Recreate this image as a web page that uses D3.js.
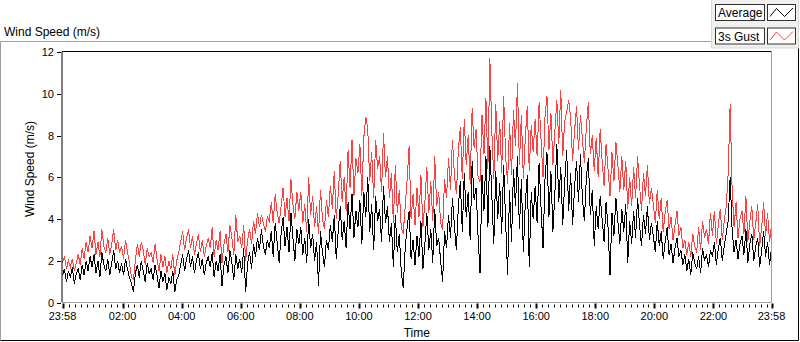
<!DOCTYPE html>
<html>
<head>
<meta charset="utf-8">
<script src="https://cdn.jsdelivr.net/npm/d3@7"></script>
<style>
  html, body { margin: 0; padding: 0; background: #fff; }
  svg { display: block; font-family: "Liberation Sans", Arial, sans-serif; }
</style>
</head>
<body>
<script>
// wind log, one value every 4 minutes from 23:58 to 23:58 next day
const startTime = new Date(2024, 0, 1, 23, 58);
const stepMinutes = 4;

const average = [
  1.3, 1.6, 1.0, 1.5, 1.2, 1.7, 0.9, 1.4, 1.6, 1.1, 1.8, 1.3, 2.0, 1.5, 2.2,
  1.7, 2.3, 1.4, 2.0, 1.2, 2.4, 1.8, 1.5, 2.1, 1.3, 1.9, 2.5, 1.6, 2.0, 1.4,
  1.9, 1.3, 2.1, 1.6, 1.2, 0.9, 0.5, 1.4, 1.8, 1.2, 2.0, 1.5, 1.0, 1.9, 1.4,
  1.6, 1.1, 1.8, 1.3, 0.7, 1.5, 1.0, 1.4, 0.6, 1.2, 0.9, 1.5, 0.5, 1.1, 1.3,
  1.8, 2.3, 1.5, 2.1, 2.5, 1.7, 2.2, 1.4, 2.0, 2.4, 1.6, 2.1, 1.3, 1.9, 2.2,
  1.7, 2.4, 1.2, 2.0, 1.5, 2.3, 0.8, 1.8, 2.2, 1.4, 2.5, 1.9, 1.1, 2.3, 1.6,
  2.1, 1.4, 2.6, 0.5, 1.9, 2.4, 1.6, 2.8, 2.2, 3.1, 2.5, 3.5, 2.7, 2.3, 3.0,
  2.6, 3.4, 2.2, 3.8, 2.9, 1.9, 3.3, 4.1, 2.7, 3.6, 2.4, 4.3, 3.1, 2.0, 3.5,
  2.8, 3.6, 2.3, 3.1, 1.9, 4.0, 2.6, 3.3, 2.0, 2.9, 0.8, 3.4, 2.4, 1.7, 3.0,
  2.5, 3.7, 2.9, 4.2, 2.1, 3.4, 4.6, 3.0, 3.9, 2.6, 4.8, 3.5, 5.2, 3.1, 4.4,
  3.6, 4.9, 2.8, 5.3, 4.1, 6.0, 3.4, 4.7, 2.5, 5.1, 3.9, 4.5, 2.9, 5.6, 3.8,
  4.6, 2.9, 3.8, 1.7, 4.2, 2.4, 3.3, 1.5, 0.7, 2.6, 3.6, 4.4, 2.1, 3.0, 1.8,
  3.2, 2.2, 3.9, 1.6, 2.8, 4.3, 2.5, 3.5, 1.9, 4.5, 2.7, 3.1, 2.0, 1.0, 3.4,
  2.6, 4.2, 3.1, 5.0, 3.7, 2.5, 4.6, 5.8, 3.4, 6.2, 4.1, 5.3, 3.0, 6.8, 4.9,
  5.5, 3.2, 1.4, 6.1, 4.4, 7.0, 3.6, 7.5, 5.1, 2.8, 6.3, 4.0, 5.7, 3.3, 6.6,
  3.9, 1.3, 5.4, 2.9, 6.4, 4.6, 7.0, 3.5, 5.9, 2.4, 4.8, 6.1, 1.7, 5.3, 4.0,
  5.6, 3.8, 6.7, 4.5, 2.6, 5.9, 7.2, 4.1, 6.3, 3.4, 5.2, 7.6, 4.8, 6.5, 3.7,
  5.8, 7.3, 4.4, 6.2, 3.7, 5.5, 6.8, 4.8, 7.1, 5.0, 3.9, 6.0, 6.9, 4.2, 5.4,
  2.7, 4.6, 3.5, 5.1, 4.0, 2.9, 4.8, 3.6, 1.3, 4.3, 3.2, 5.0, 3.9, 2.8, 4.5,
  3.4, 4.7, 1.9, 3.9, 2.8, 4.4, 3.1, 5.0, 3.7, 2.7, 4.2, 3.3, 4.6, 3.0, 3.8,
  3.2, 2.4, 3.9, 2.7, 3.4, 2.1, 2.9, 3.6, 2.3, 2.8, 1.9, 2.6, 3.1, 2.2, 2.5,
  1.8, 2.3, 1.5, 2.1, 1.3, 2.4, 1.9, 1.6, 2.2, 1.4, 2.6, 2.0, 2.3, 1.7, 2.5,
  2.2, 2.9, 1.8, 2.6, 3.1, 2.0, 2.7, 3.3, 3.9, 6.0, 3.5, 2.4, 3.0, 2.1, 2.8,
  3.2, 2.3, 3.5, 1.9, 2.8, 3.3, 2.0, 2.7, 3.1, 1.7, 2.5, 3.4, 2.2, 2.9, 1.8, 2.6
];

const gust = [
  1.9, 2.2, 1.6, 2.0, 1.7, 2.1, 1.5, 1.9, 2.3, 1.8, 2.6, 2.1, 2.9, 2.4, 3.2,
  2.6, 3.4, 2.3, 2.9, 2.2, 3.5, 2.7, 2.4, 3.1, 2.3, 2.8, 3.5, 2.5, 3.0, 2.4,
  2.7, 2.1, 3.0, 2.4, 1.9, 1.2, 1.1, 2.0, 2.8, 2.2, 2.9, 2.5, 1.8, 2.6, 2.2,
  2.4, 1.9, 2.8, 2.1, 1.5, 2.3, 1.7, 2.2, 1.4, 2.0, 1.6, 2.3, 1.3, 2.0, 2.4,
  2.9, 3.4, 2.5, 3.1, 3.5, 2.6, 3.2, 2.3, 2.8, 3.3, 2.4, 3.0, 2.2, 2.7, 3.1,
  2.6, 3.6, 2.2, 3.0, 2.5, 3.4, 1.9, 2.8, 3.3, 2.4, 3.7, 3.1, 2.3, 4.2, 2.9,
  3.2, 2.6, 3.7, 2.0, 3.0, 3.5, 2.8, 3.9, 3.3, 4.3, 3.6, 4.2, 3.8, 3.4, 4.1,
  3.9, 4.8, 3.8, 5.2, 4.3, 3.8, 4.6, 5.5, 4.1, 5.0, 3.9, 5.9, 4.7, 4.0, 5.3,
  4.4, 5.3, 3.8, 4.7, 3.4, 6.0, 4.2, 5.1, 3.6, 4.6, 3.3, 5.4, 4.0, 3.5, 4.9,
  4.1, 5.6, 4.5, 6.3, 4.0, 5.2, 6.8, 4.8, 6.0, 4.4, 7.3, 5.5, 7.8, 5.1, 6.9,
  6.2, 7.6, 5.1, 7.9, 8.9, 8.3, 5.8, 7.2, 5.0, 7.8, 6.4, 7.0, 5.3, 8.1, 6.0,
  7.0, 5.0, 6.2, 3.8, 6.6, 4.3, 5.4, 3.6, 3.3, 4.6, 5.9, 7.5, 4.0, 5.2, 3.7,
  5.5, 4.1, 6.1, 3.6, 4.8, 6.5, 4.3, 5.8, 3.9, 7.0, 4.6, 5.3, 3.8, 3.5, 5.9,
  5.0, 6.9, 5.4, 7.8, 6.1, 5.2, 7.3, 8.4, 5.9, 8.8, 6.6, 8.0, 5.7, 9.3, 7.4,
  8.3, 6.0, 5.8, 9.0, 7.1, 9.8, 6.4, 11.7, 8.2, 5.9, 9.5, 6.8, 8.7, 6.2, 9.9,
  7.0, 5.7, 8.6, 6.1, 9.2, 7.5, 10.5, 6.6, 9.0, 5.9, 7.9, 9.4, 6.3, 8.5, 7.2,
  8.8, 7.0, 9.6, 7.8, 6.0, 8.9, 9.9, 7.3, 9.1, 6.6, 8.2, 9.7, 7.6, 10.2, 7.0,
  8.7, 9.1, 9.7, 8.9, 6.8, 8.2, 9.4, 7.3, 9.0, 7.8, 6.7, 8.4, 9.6, 7.1, 8.0,
  6.3, 7.9, 6.0, 8.3, 6.8, 5.6, 7.6, 6.4, 5.1, 7.2, 5.8, 7.7, 6.6, 5.3, 7.0,
  5.4, 6.8, 4.5, 6.0, 4.6, 6.5, 5.0, 7.0, 5.6, 4.4, 6.2, 5.1, 6.6, 4.7, 5.5,
  4.7, 3.8, 5.4, 4.0, 5.0, 3.4, 4.3, 4.9, 3.5, 4.1, 3.0, 3.7, 4.4, 3.2, 3.6,
  2.6, 3.0, 2.3, 2.9, 2.2, 3.3, 2.7, 2.4, 3.6, 2.5, 3.9, 3.1, 3.5, 2.8, 4.3,
  3.2, 4.4, 2.8, 3.7, 4.5, 3.0, 3.9, 4.6, 6.2, 9.5, 5.4, 3.6, 4.8, 3.1, 4.0,
  4.4, 3.3, 5.1, 2.9, 3.9, 4.6, 3.0, 3.8, 4.7, 2.7, 3.6, 4.8, 3.2, 4.3, 2.9, 3.7
];

const yTicks = [0, 2, 4, 6, 8, 10, 12];
const seriesNames = ['Average', '3s Gust'];
const seriesColors = ['#000000', '#ff4040'];

const width = 800;
const height = 342;
const plot = { left: 62, right: 771.5, top: 51.5, bottom: 302.5 };

const endTime = d3.timeMinute.offset(startTime, (average.length - 1) * stepMinutes);
const toPoints = vals => vals.map((v, i) => ({ time: d3.timeMinute.offset(startTime, i * stepMinutes), value: v }));

const svg = d3.select('body').append('svg')
  .attr('width', width)
  .attr('height', height);

svg.append('rect').attr('width', width).attr('height', height).attr('fill', '#fff');

// outer frame: grey top/left, dark bottom/right
svg.append('path')
  .attr('d', `M0.5,${height - 1.5}V41.5H798.5`)
  .attr('fill', 'none').attr('stroke', '#a0a0a0');
svg.append('path')
  .attr('d', `M798.5,41.5V${height - 1.5}H0.5`)
  .attr('fill', 'none').attr('stroke', '#000');

svg.append('text')
  .attr('x', 4).attr('y', 36)
  .attr('font-size', 12)
  .attr('fill', '#000')
  .text('Wind Speed (m/s)');

const x = d3.scaleTime()
  .domain([startTime, endTime])
  .range([plot.left + 0.5, plot.right]);

const y = d3.scaleLinear()
  .domain([0, 12])
  .range([plot.bottom, plot.top + 0.5]);

// plot area
svg.append('rect')
  .attr('x', plot.left).attr('y', plot.top)
  .attr('width', plot.right - plot.left).attr('height', plot.bottom - plot.top)
  .attr('fill', '#fff');

const clip = svg.append('clipPath').attr('id', 'clip')
  .append('rect')
  .attr('x', plot.left).attr('y', plot.top)
  .attr('width', plot.right - plot.left).attr('height', plot.bottom - plot.top);

const line = d3.line()
  .x(d => x(d.time))
  .y(d => y(d.value));

const lines = svg.append('g').attr('clip-path', 'url(#clip)');
lines.append('path')
  .datum(toPoints(gust))
  .attr('d', line)
  .attr('fill', 'none')
  .attr('stroke', seriesColors[1])
  .attr('stroke-width', 1)
  .attr('shape-rendering', 'crispEdges');
lines.append('path')
  .datum(toPoints(average))
  .attr('d', line)
  .attr('fill', 'none')
  .attr('stroke', seriesColors[0])
  .attr('stroke-width', 1)
  .attr('shape-rendering', 'crispEdges');

// plot border: black top/left, grey bottom/right
svg.append('path')
  .attr('d', `M${plot.left},${plot.bottom}V${plot.top}H${plot.right}`)
  .attr('fill', 'none').attr('stroke', '#000');
svg.append('path')
  .attr('d', `M${plot.right},${plot.top}V${plot.bottom}H${plot.left}`)
  .attr('fill', 'none').attr('stroke', '#a0a0a0');

// y axis
const yAxis = svg.append('g');
yAxis.selectAll('line')
  .data(yTicks)
  .join('line')
  .attr('x1', plot.left - 5).attr('x2', plot.left - 1)
  .attr('y1', d => Math.round(y(d)) + 0.5).attr('y2', d => Math.round(y(d)) + 0.5)
  .attr('stroke', '#000');
yAxis.selectAll('text')
  .data(yTicks)
  .join('text')
  .attr('x', plot.left - 8)
  .attr('y', d => y(d) + 4)
  .attr('text-anchor', 'end')
  .attr('font-size', 11)
  .attr('fill', '#000')
  .text(d => d);

svg.append('text')
  .attr('transform', `translate(34, ${(plot.top + plot.bottom) / 2 - 8}) rotate(-90)`)
  .attr('text-anchor', 'middle')
  .attr('font-size', 12)
  .attr('fill', '#000')
  .text('Wind Speed (m/s)');

// x axis: minor every 12 min, major every 2 h plus the ends
const fmt = d3.timeFormat('%H:%M');
const minor = d3.timeMinute.every(12).range(startTime, endTime);
const major = [startTime, ...d3.timeHour.every(2).range(d3.timeMinute.offset(startTime, 30), endTime), endTime];

const xAxis = svg.append('g');
xAxis.selectAll('.minor')
  .data(minor)
  .join('line')
  .attr('class', 'minor')
  .attr('x1', d => Math.round(x(d)) + 0.5).attr('x2', d => Math.round(x(d)) + 0.5)
  .attr('y1', plot.bottom + 2).attr('y2', plot.bottom + 5)
  .attr('stroke', '#000');
xAxis.selectAll('.major')
  .data(major)
  .join('line')
  .attr('class', 'major')
  .attr('x1', d => Math.round(x(d)) + 0.5).attr('x2', d => Math.round(x(d)) + 0.5)
  .attr('y1', plot.bottom + 1).attr('y2', plot.bottom + 6)
  .attr('stroke', '#000')
  .attr('stroke-width', 2);
xAxis.selectAll('text')
  .data(major)
  .join('text')
  .attr('x', d => x(d))
  .attr('y', 320)
  .attr('text-anchor', 'middle')
  .attr('font-size', 11)
  .attr('fill', '#000')
  .text(d => fmt(d));

svg.append('text')
  .attr('x', (plot.left + plot.right) / 2)
  .attr('y', 337)
  .attr('text-anchor', 'middle')
  .attr('font-size', 12)
  .attr('fill', '#000')
  .text('Time');

// legend
const legend = svg.append('g');
legend.append('rect')
  .attr('x', 711.5).attr('y', -1).attr('width', 87).attr('height', 49)
  .attr('fill', '#f0f0f0').attr('stroke', '#d8d8d8');

const items = legend.selectAll('.item')
  .data(seriesNames)
  .join('g')
  .attr('class', 'item')
  .attr('transform', (d, i) => `translate(0, ${i * 23.5})`);
items.append('rect')
  .attr('x', 715.5).attr('y', 4.5).attr('width', 49).attr('height', 16)
  .attr('fill', '#fff').attr('stroke', '#303030');
items.append('text')
  .attr('x', 718).attr('y', 17)
  .attr('font-size', 12)
  .attr('fill', '#000')
  .text(d => d);
items.append('rect')
  .attr('x', 767.5).attr('y', 4.5).attr('width', 28).attr('height', 16)
  .attr('fill', '#fff').attr('stroke', '#303030');
items.append('path')
  .attr('d', 'M770,16.5L776.5,8.5L784.5,16.5L793,8')
  .attr('fill', 'none')
  .attr('stroke', (d, i) => seriesColors[i]);
</script>
</body>
</html>
